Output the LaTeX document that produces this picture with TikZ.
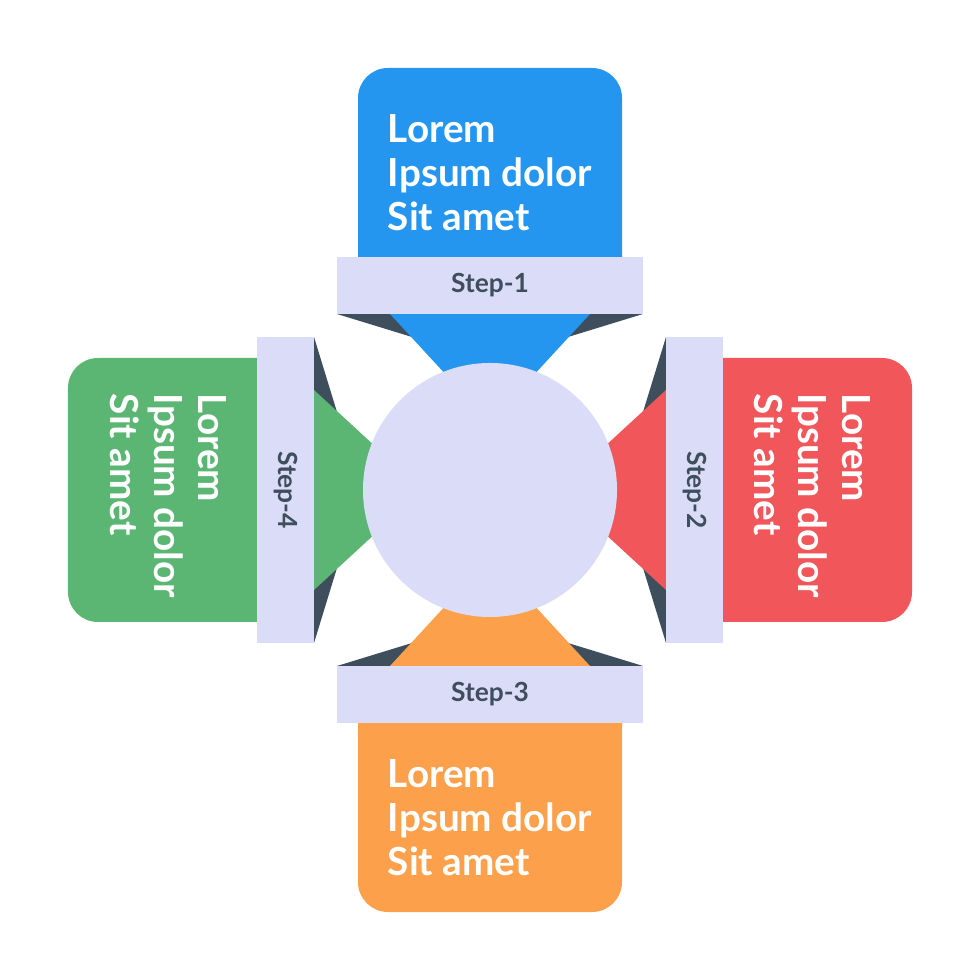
\documentclass[tikz,border=0pt]{standalone}
\usepackage{fontspec}
\setmainfont{Lato}
\usetikzlibrary{positioning}
\definecolor{stepblue}{RGB}{36,150,240}
\definecolor{stepred}{RGB}{240,86,90}
\definecolor{steporange}{RGB}{252,160,76}
\definecolor{stepgreen}{RGB}{92,182,115}
\definecolor{bandcol}{RGB}{219,221,248}
\definecolor{darkslate}{RGB}{62,78,92}
\tikzset{
  shade/.style={fill=darkslate},
  band/.style={fill=bandcol},
  hubdisc/.style={circle,fill=bandcol,minimum size=2.54cm,inner sep=0pt},
  lbl/.style={font=\fontsize{11}{12.5}\selectfont\bfseries,text=white,align=left,inner sep=0pt},
  steplbl/.style={font=\fontsize{7.5}{9}\selectfont\bfseries,text=darkslate,inner sep=0pt}
}

\begin{document}
\begin{tikzpicture}
    \useasboundingbox (-4.9,-4.9) rectangle (4.9,4.9);

    % Step-1 (top)
    \begin{scope}[rotate=0]
      \fill[shade] (-1.53,1.76) -- (1.53,1.76) -- (0.78,1.53) -- (-0.78,1.53) -- cycle;
      \fill[stepblue] (-1.0,1.76) -- (1.0,1.76) -- (0.3,1.0) -- (-0.3,1.0) -- cycle;
      \fill[stepblue] (-1.32,2.0) [rounded corners=0.3cm] -- (-1.32,4.22) -- (1.32,4.22) [sharp corners] -- (1.32,2.0) -- cycle;
      \fill[band] (-1.53,1.76) rectangle (1.53,2.33);
    \end{scope}

    % Step-2 (right)
    \begin{scope}[rotate=-90]
      \fill[shade] (-1.53,1.76) -- (1.53,1.76) -- (0.78,1.53) -- (-0.78,1.53) -- cycle;
      \fill[stepred] (-1.0,1.76) -- (1.0,1.76) -- (0.3,1.0) -- (-0.3,1.0) -- cycle;
      \fill[stepred] (-1.32,2.0) [rounded corners=0.3cm] -- (-1.32,4.22) -- (1.32,4.22) [sharp corners] -- (1.32,2.0) -- cycle;
      \fill[band] (-1.53,1.76) rectangle (1.53,2.33);
    \end{scope}

    % Step-3 (bottom)
    \begin{scope}[rotate=180]
      \fill[shade] (-1.53,1.76) -- (1.53,1.76) -- (0.78,1.53) -- (-0.78,1.53) -- cycle;
      \fill[steporange] (-1.0,1.76) -- (1.0,1.76) -- (0.3,1.0) -- (-0.3,1.0) -- cycle;
      \fill[steporange] (-1.32,2.0) [rounded corners=0.3cm] -- (-1.32,4.22) -- (1.32,4.22) [sharp corners] -- (1.32,2.0) -- cycle;
      \fill[band] (-1.53,1.76) rectangle (1.53,2.33);
    \end{scope}

    % Step-4 (left)
    \begin{scope}[rotate=90]
      \fill[shade] (-1.53,1.76) -- (1.53,1.76) -- (0.78,1.53) -- (-0.78,1.53) -- cycle;
      \fill[stepgreen] (-1.0,1.76) -- (1.0,1.76) -- (0.3,1.0) -- (-0.3,1.0) -- cycle;
      \fill[stepgreen] (-1.32,2.0) [rounded corners=0.3cm] -- (-1.32,4.22) -- (1.32,4.22) [sharp corners] -- (1.32,2.0) -- cycle;
      \fill[band] (-1.53,1.76) rectangle (1.53,2.33);
    \end{scope}

    % Hub
    \node[hubdisc] (hub) at (0,0) {};

    % Band labels
    \node[steplbl] (step1) at (0,2.045) {Step-1};
    \node[steplbl,rotate=-90] (step2) at (2.045,0) {Step-2};
    \node[steplbl] (step3) at (0,-2.045) {Step-3};
    \node[steplbl,rotate=-90] (step4) at (-2.045,0) {Step-4};

    % Panel texts
    \node[lbl] (txt1) at (0,3.17) {Lorem\\Ipsum dolor\\Sit amet};
    \node[lbl,rotate=-90] (txt2) at (3.22,-0.06) {Lorem\\Ipsum dolor\\Sit amet};
    \node[lbl] (txt3) at (0,-3.28) {Lorem\\Ipsum dolor\\Sit amet};
    \node[lbl,rotate=-90] (txt4) at (-3.22,-0.06) {Lorem\\Ipsum dolor\\Sit amet};

\end{tikzpicture}
\end{document}
